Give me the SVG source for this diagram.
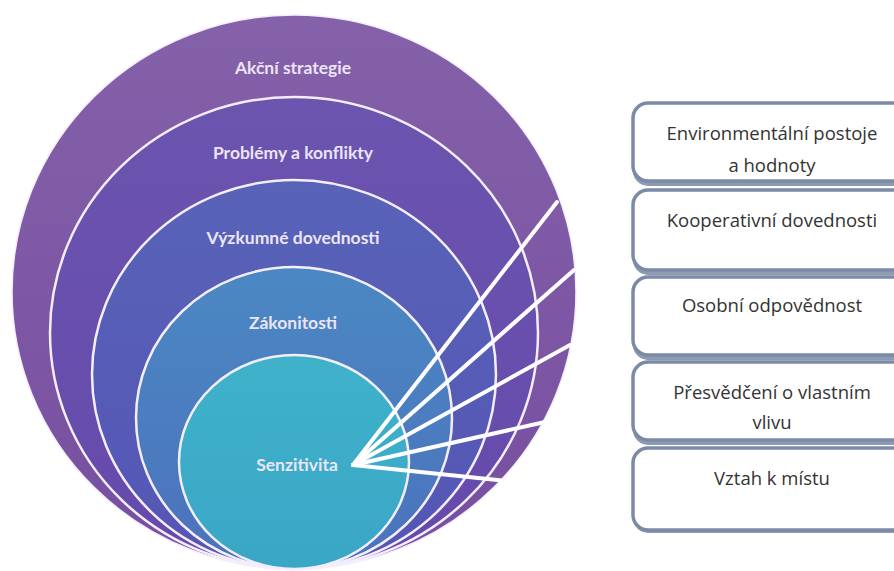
<svg xmlns="http://www.w3.org/2000/svg" width="894" height="571" viewBox="0 0 894 571">
<style>
.ring{stroke:#f4eefc;stroke-width:2.5}
.rl{font-family:Lato,"Open Sans",sans-serif;font-weight:bold;font-size:17.5px;fill:#ece4f7;text-anchor:middle}
.box{fill:#ffffff;stroke:#7b8aa6;stroke-width:3.5}
.shadow{fill:#8e9ab0}
.bt{font-family:"Open Sans","Liberation Sans",sans-serif;font-size:18.5px;fill:#333333;text-anchor:middle}
.fan{stroke:#ffffff;stroke-width:4;stroke-linecap:round;fill:none}
</style>
<defs>
<linearGradient id="g1" x1="0" y1="0" x2="0" y2="1"><stop offset="0" stop-color="#8461a9"/><stop offset="1" stop-color="#774ea0"/></linearGradient>
<linearGradient id="g2" x1="0" y1="0" x2="0" y2="1"><stop offset="0" stop-color="#6b55af"/><stop offset="1" stop-color="#6549ab"/></linearGradient>
<linearGradient id="g3" x1="0" y1="0" x2="0" y2="1"><stop offset="0" stop-color="#5863b8"/><stop offset="1" stop-color="#5555b4"/></linearGradient>
<linearGradient id="g4" x1="0" y1="0" x2="0" y2="1"><stop offset="0" stop-color="#4b88c3"/><stop offset="1" stop-color="#4b72bc"/></linearGradient>
<linearGradient id="g5" x1="0" y1="0" x2="0" y2="1"><stop offset="0" stop-color="#3fb2ca"/><stop offset="1" stop-color="#3aa6c6"/></linearGradient>
</defs>
<rect width="894" height="571" fill="#ffffff"/>
<g id="akcni-strategie">
<ellipse cx="294" cy="292" rx="282" ry="277" fill="url(#g1)" stroke="#f4eefc" stroke-width="1.5"/>
<text class="rl" x="293" y="74">Akční strategie</text>
</g>
<g id="problemy-a-konflikty">
<ellipse class="ring" cx="294" cy="333" rx="244" ry="236" fill="url(#g2)"/>
<text class="rl" x="293" y="159">Problémy a konflikty</text>
</g>
<g id="vyzkumne-dovednosti">
<ellipse class="ring" cx="294" cy="374.5" rx="202" ry="194.5" fill="url(#g3)"/>
<text class="rl" x="293" y="244">Výzkumné dovednosti</text>
</g>
<g id="zakonitosti">
<ellipse class="ring" cx="294" cy="418" rx="158" ry="151" fill="url(#g4)"/>
<text class="rl" x="293" y="329">Zákonitosti</text>
</g>
<g id="senzitivita">
<ellipse class="ring" cx="294" cy="462" rx="115" ry="107" fill="url(#g5)"/>
<text class="rl" x="297" y="471">Senzitivita</text>
</g>
<g id="connectors">
<line class="fan" x1="353" y1="465" x2="557" y2="202"/>
<line class="fan" x1="353" y1="465" x2="574" y2="270"/>
<line class="fan" x1="353" y1="465" x2="570" y2="345"/>
<line class="fan" x1="353" y1="465" x2="545" y2="422"/>
<line class="fan" x1="353" y1="465" x2="507" y2="481"/>
</g>
<g id="box-environmentalni">
<rect class="shadow" x="633" y="106" width="300" height="80" rx="15"/>
<rect class="box" x="633" y="103" width="300" height="78" rx="15"/>
<text class="bt" x="772" y="140">Environmentální postoje</text>
<text class="bt" x="772" y="172">a hodnoty</text>
</g>
<g id="box-kooperativni">
<rect class="shadow" x="633" y="193" width="300" height="82" rx="15"/>
<rect class="box" x="633" y="190" width="300" height="80" rx="15"/>
<text class="bt" x="772" y="227">Kooperativní dovednosti</text>
</g>
<g id="box-osobni">
<rect class="shadow" x="633" y="280" width="300" height="80" rx="15"/>
<rect class="box" x="633" y="277" width="300" height="78" rx="15"/>
<text class="bt" x="772" y="312">Osobní odpovědnost</text>
</g>
<g id="box-presvedceni">
<rect class="shadow" x="633" y="365" width="300" height="80" rx="15"/>
<rect class="box" x="633" y="362" width="300" height="78" rx="15"/>
<text class="bt" x="772" y="399">Přesvědčení o vlastním</text>
<text class="bt" x="772" y="429">vlivu</text>
</g>
<g id="box-vztah">
<rect class="shadow" x="633" y="451" width="300" height="82" rx="15"/>
<rect class="box" x="633" y="448" width="300" height="82" rx="15"/>
<text class="bt" x="772" y="485">Vztah k místu</text>
</g>
</svg>
